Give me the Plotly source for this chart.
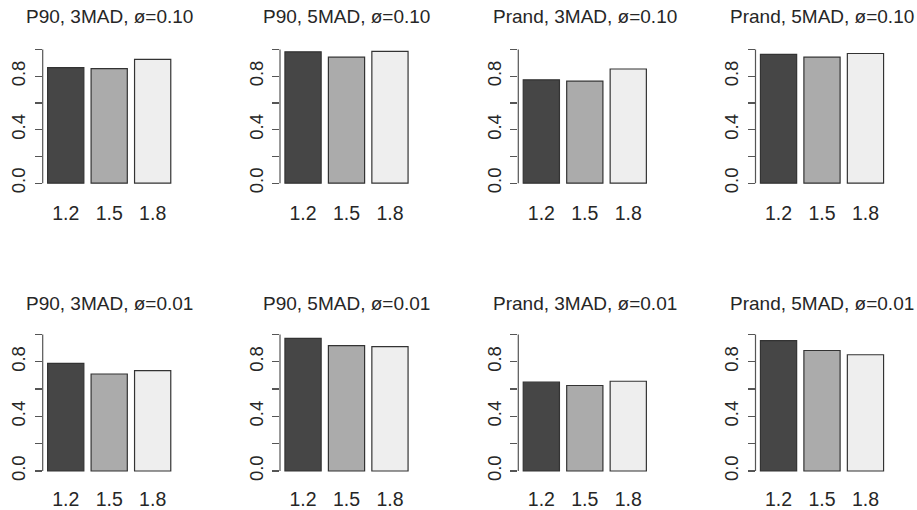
import plotly.graph_objects as go

# ---- data ----
titles = [
    "P90, 3MAD, ø=0.10", "P90, 5MAD, ø=0.10", "Prand, 3MAD, ø=0.10", "Prand, 5MAD, ø=0.10",
    "P90, 3MAD, ø=0.01", "P90, 5MAD, ø=0.01", "Prand, 3MAD, ø=0.01", "Prand, 5MAD, ø=0.01",
]
categories = ["1.2", "1.5", "1.8"]
p90_3mad_010 = [0.864, 0.857, 0.926]
p90_5mad_010 = [0.983, 0.943, 0.986]
prand_3mad_010 = [0.773, 0.763, 0.854]
prand_5mad_010 = [0.963, 0.943, 0.970]
p90_3mad_001 = [0.788, 0.710, 0.735]
p90_5mad_001 = [0.971, 0.918, 0.911]
prand_3mad_001 = [0.650, 0.626, 0.657]
prand_5mad_001 = [0.954, 0.882, 0.851]
panels = [p90_3mad_010, p90_5mad_010, prand_3mad_010, prand_5mad_010,
          p90_3mad_001, p90_5mad_001, prand_3mad_001, prand_5mad_001]
y_tickvals = [0.0, 0.2, 0.4, 0.6, 0.8, 1.0]
y_ticktext = ["0.0", "", "0.4", "", "0.8", ""]

# ---- style / layout ----
W, H = 917, 510
bar_colors = ["#464646", "#ABABAB", "#EEEEEE"]
bar_x = [0.7, 1.9, 3.1]          # barplot positions (width 1, space 0.2)
xr = [0.064, 3.736]
yr = [-0.04, 1.04]
axis_left_px = [42.7, 280.0, 518.3, 755.5]
plot_w_px = 133.0
rows_px = [(44.6, 190.4), (332.2, 481.2)]   # top, bottom of plot region
title_y_px = [17.0, 306.7]
font_family = "Liberation Sans, Arial, Helvetica, sans-serif"
text_color = "#262626"
axis_color = "#555555"

fig = go.Figure()
layout = dict(
    width=W, height=H, margin=dict(l=0, r=0, t=0, b=0),
    paper_bgcolor="white", plot_bgcolor="white", showlegend=False,
    font=dict(family=font_family, color=text_color),
    annotations=[], shapes=[],
)

for i, vals in enumerate(panels):
    r, c = divmod(i, 4)
    n = "" if i == 0 else str(i + 1)
    xa, ya = "x" + n, "y" + n
    fig.add_trace(go.Bar(
        x=bar_x, y=vals, width=1.0, xaxis=xa, yaxis=ya,
        marker=dict(color=bar_colors, line=dict(color="#333333", width=1.2)),
        hoverinfo="skip",
    ))
    left = axis_left_px[c]
    x0 = left / W
    x1 = (left + plot_w_px) / W
    top, bot = rows_px[r]
    y0 = 1 - bot / H
    y1 = 1 - top / H
    layout["xaxis" + n] = dict(
        domain=[x0, x1], anchor=ya, range=xr, showgrid=False, zeroline=False,
        showline=False, ticks="", tickvals=bar_x, ticktext=categories,
        tickfont=dict(size=19.5, color=text_color), ticklabelstandoff=11 if r == 0 else 9,
        fixedrange=True,
    )
    layout["yaxis" + n] = dict(
        domain=[y0, y1], anchor=xa, range=yr, showgrid=False, zeroline=False,
        showline=False, ticks="outside", ticklen=7, tickwidth=1.2, tickcolor=axis_color,
        tickvals=y_tickvals, ticktext=y_ticktext, tickangle=-90,
        tickfont=dict(size=18.5, color=text_color), ticklabelstandoff=2,
        fixedrange=True,
    )
    # R-style axis line spanning only first to last tick
    layout["shapes"].append(dict(
        type="line", xref=xa + " domain", yref=ya, x0=0, x1=0,
        y0=y_tickvals[0], y1=y_tickvals[-1],
        line=dict(color=axis_color, width=1.2),
    ))
    layout["annotations"].append(dict(
        text=titles[i], xref="paper", yref="paper",
        x=(x0 + x1) / 2, y=1 - title_y_px[r] / H,
        xanchor="center", yanchor="middle", showarrow=False,
        font=dict(size=19, color=text_color, family=font_family),
    ))

fig.update_layout(**layout)
fig.write_html(
    "out.html",
    config={"displayModeBar": False, "staticPlot": True},
    post_script="document.body.style.margin='0';document.body.style.overflow='hidden';",
)
